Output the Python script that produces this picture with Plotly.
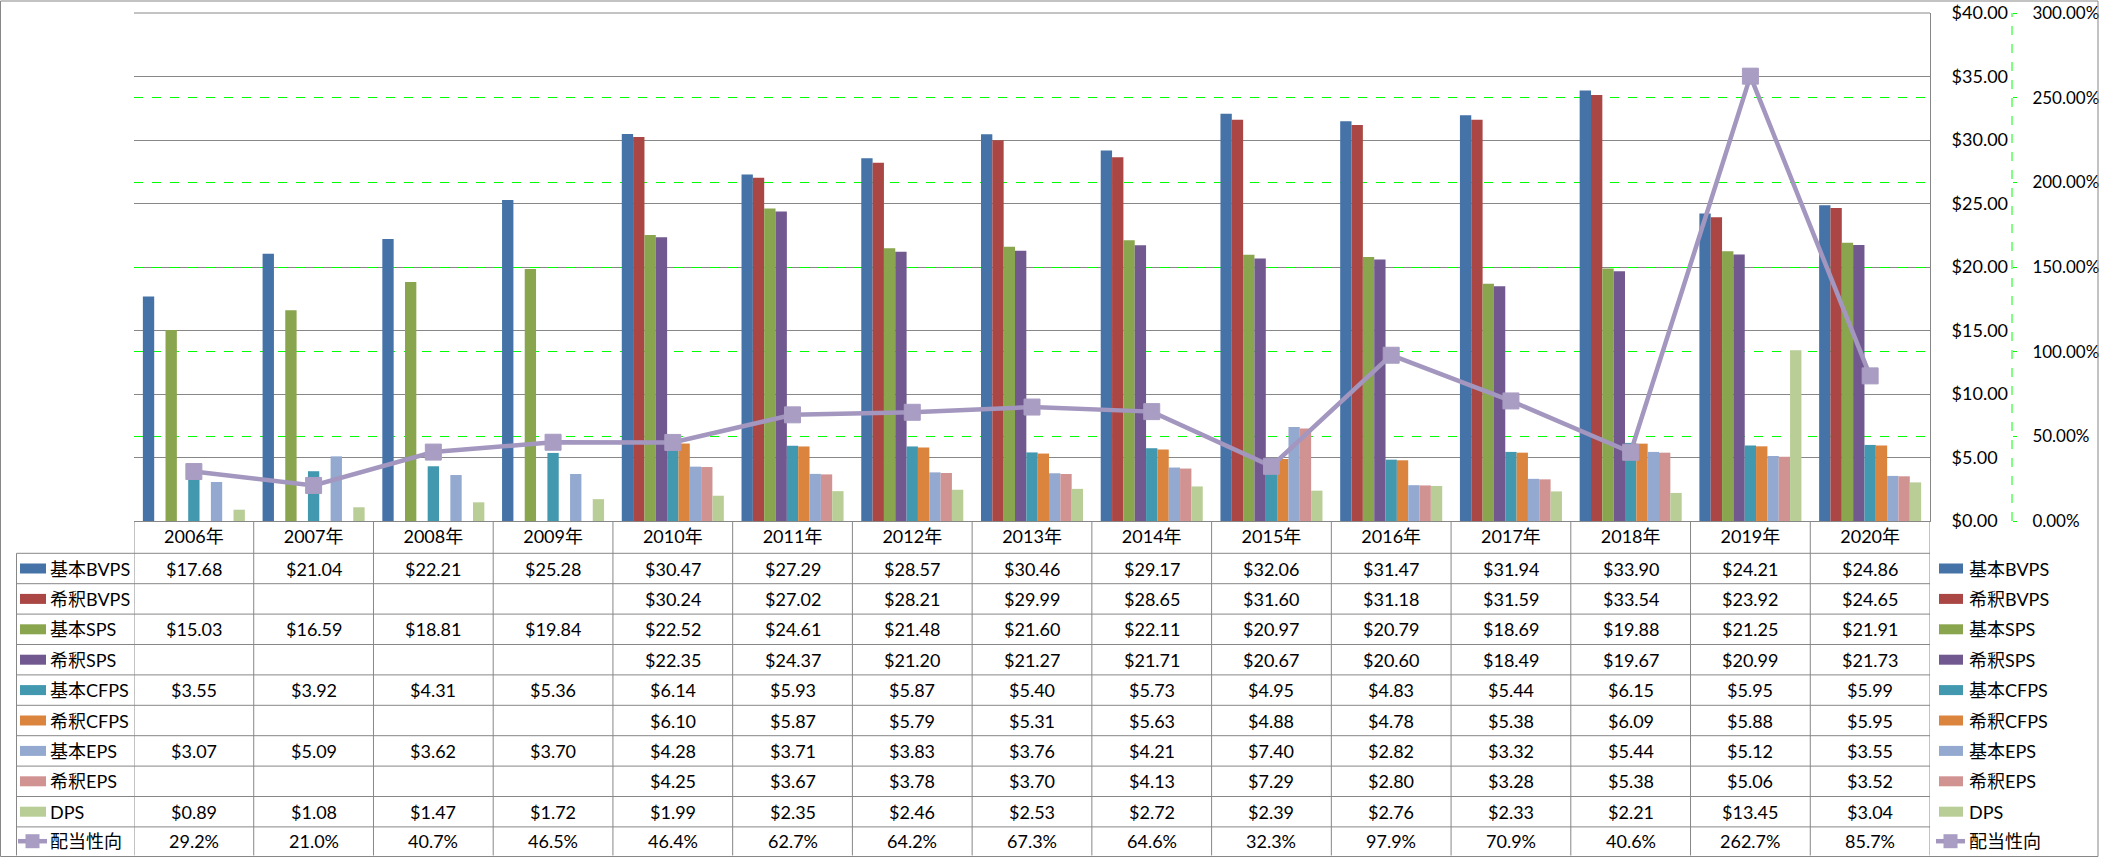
import plotly.graph_objects as go

# ---------------- data ----------------
years = ['2006年', '2007年', '2008年', '2009年', '2010年', '2011年', '2012年', '2013年',
         '2014年', '2015年', '2016年', '2017年', '2018年', '2019年', '2020年']

basic_bvps = [17.68, 21.04, 22.21, 25.28, 30.47, 27.29, 28.57, 30.46, 29.17, 32.06, 31.47, 31.94, 33.90, 24.21, 24.86]
dil_bvps = [None, None, None, None, 30.24, 27.02, 28.21, 29.99, 28.65, 31.60, 31.18, 31.59, 33.54, 23.92, 24.65]
basic_sps = [15.03, 16.59, 18.81, 19.84, 22.52, 24.61, 21.48, 21.60, 22.11, 20.97, 20.79, 18.69, 19.88, 21.25, 21.91]
dil_sps = [None, None, None, None, 22.35, 24.37, 21.20, 21.27, 21.71, 20.67, 20.60, 18.49, 19.67, 20.99, 21.73]
basic_cfps = [3.55, 3.92, 4.31, 5.36, 6.14, 5.93, 5.87, 5.40, 5.73, 4.95, 4.83, 5.44, 6.15, 5.95, 5.99]
dil_cfps = [None, None, None, None, 6.10, 5.87, 5.79, 5.31, 5.63, 4.88, 4.78, 5.38, 6.09, 5.88, 5.95]
basic_eps = [3.07, 5.09, 3.62, 3.70, 4.28, 3.71, 3.83, 3.76, 4.21, 7.40, 2.82, 3.32, 5.44, 5.12, 3.55]
dil_eps = [None, None, None, None, 4.25, 3.67, 3.78, 3.70, 4.13, 7.29, 2.80, 3.28, 5.38, 5.06, 3.52]
dps = [0.89, 1.08, 1.47, 1.72, 1.99, 2.35, 2.46, 2.53, 2.72, 2.39, 2.76, 2.33, 2.21, 13.45, 3.04]
payout_pct = [29.2, 21.0, 40.7, 46.5, 46.4, 62.7, 64.2, 67.3, 64.6, 32.3, 97.9, 70.9, 40.6, 262.7, 85.7]

bar_names = ['基本BVPS', '希釈BVPS', '基本SPS', '希釈SPS', '基本CFPS', '希釈CFPS', '基本EPS', '希釈EPS', 'DPS']
bar_values = [basic_bvps, dil_bvps, basic_sps, dil_sps, basic_cfps, dil_cfps, basic_eps, dil_eps, dps]
line_name = '配当性向'

# ---------------- styles ----------------
bar_colors = ['#4572A7', '#AA4643', '#89A54E', '#71588F', '#4198AF', '#DB843D', '#93A9CF', '#D19392', '#B9CD96']
line_color = '#A396BF'
marker_color = '#A99DC3'
grid_gray = '#878787'
green = '#00FF00'
FONT = "Lato, 'Noto Sans CJK JP', sans-serif"
FS = 18

W, H = 2101, 858
L, R, T, B = 134, 1930, 13, 521   # plot area (pixels)
PR = 2050                          # right edge of paper (pixels)


def px_x(x):
    return (x - L) / (PR - L)


def px_y(y):
    return (B - y) / (B - T)


# table row boundaries (pixels, below the plot area)
ROW_EDGES = [553.3 + 30.4 * k for k in range(10)] + [855.5]
TABLE_LEFT = 16.5
SEC_AXIS_X = 2012

fig = go.Figure()
for name, vals, col in zip(bar_names, bar_values, bar_colors):
    fig.add_trace(go.Bar(x=years, y=vals, name=name, marker=dict(color=col, line=dict(width=0)),
                         yaxis='y'))

fig.add_trace(go.Scatter(x=years, y=[v / 100 for v in payout_pct], name=line_name, yaxis='y2',
                         mode='lines+markers',
                         line=dict(color=line_color, width=4.5),
                         marker=dict(symbol='square', size=16, color=marker_color,
                                     line=dict(color=marker_color, width=1))))

shapes = []
annotations = []

# outer chart border
shapes.append(dict(type='rect', xref='paper', yref='paper', x0=px_x(0.5), x1=px_x(2098),
                   y0=px_y(1), y1=px_y(856.5), line=dict(color=grid_gray, width=1)))

# top border of plot area ($40 gridline)
shapes.append(dict(type='line', xref='paper', yref='paper', x0=0, x1=px_x(R), y0=1, y1=1,
                   line=dict(color=grid_gray, width=1)))

# secondary axis dashed line
shapes.append(dict(type='line', xref='paper', yref='paper', x0=px_x(SEC_AXIS_X), x1=px_x(SEC_AXIS_X),
                   y0=0, y1=1, line=dict(color=green, width=1, dash='dash')))

# table horizontal lines
for y in ROW_EDGES[:-1]:
    shapes.append(dict(type='line', xref='paper', yref='paper', x0=px_x(TABLE_LEFT), x1=px_x(R),
                       y0=px_y(y), y1=px_y(y), line=dict(color=grid_gray, width=1)))
# table vertical lines (category boundaries)
for i in range(len(years) + 1):
    shapes.append(dict(type='line', xref='x', yref='paper', x0=i - 0.5, x1=i - 0.5,
                       y0=0, y1=px_y(ROW_EDGES[-1]), line=dict(color=grid_gray, width=1)))
shapes.append(dict(type='line', xref='paper', yref='paper', x0=px_x(TABLE_LEFT), x1=px_x(TABLE_LEFT),
                   y0=px_y(ROW_EDGES[0]), y1=px_y(ROW_EDGES[-1]), line=dict(color=grid_gray, width=1)))

# table contents + left keys + right legend
row_names = bar_names + [line_name]
for k, name in enumerate(row_names):
    yc = (ROW_EDGES[k] + ROW_EDGES[k + 1]) / 2
    if k < len(bar_names):
        vals = bar_values[k]
        texts = [None if v is None else f'${v:.2f}' for v in vals]
        for sx0, sx1 in ((20, 46), (1939, 1963)):
            shapes.append(dict(type='rect', xref='paper', yref='paper', x0=px_x(sx0), x1=px_x(sx1),
                               y0=px_y(yc - 5), y1=px_y(yc + 5), fillcolor=bar_colors[k],
                               line=dict(width=0)))
    else:
        texts = [f'{v:.1f}%' for v in payout_pct]
        for lx0, lx1 in ((18, 47), (1936, 1965)):
            cx = (lx0 + lx1) / 2
            shapes.append(dict(type='line', xref='paper', yref='paper', x0=px_x(lx0), x1=px_x(lx1),
                               y0=px_y(yc), y1=px_y(yc), line=dict(color=line_color, width=4.5)))
            shapes.append(dict(type='rect', xref='paper', yref='paper', x0=px_x(cx - 7), x1=px_x(cx + 7),
                               y0=px_y(yc - 7), y1=px_y(yc + 7), fillcolor=marker_color,
                               line=dict(width=0)))
    for yr, t in zip(years, texts):
        if t is None:
            continue
        annotations.append(dict(x=yr, xref='x', y=px_y(yc), yref='paper', text=t, showarrow=False,
                                xanchor='center', yanchor='middle', font=dict(size=FS, color='black')))
    for tx in (48, 1967):
        annotations.append(dict(x=px_x(tx), xref='paper', y=px_y(yc), yref='paper', text=name,
                                showarrow=False, xanchor='left', yanchor='middle',
                                font=dict(size=FS, color='black')))

fig.update_layout(
    width=W, height=H,
    margin=dict(l=L, r=W - PR, t=T, b=H - B, pad=0, autoexpand=False),
    paper_bgcolor='white', plot_bgcolor='white',
    font=dict(family=FONT, size=FS, color='black'),
    barmode='group', bargap=0.148, bargroupgap=0,
    showlegend=False,
    xaxis=dict(type='category', range=[-0.5, len(years) - 0.5], domain=[0, px_x(R)],
               showgrid=False, zeroline=False,
               showline=True, linecolor=grid_gray, linewidth=1, ticks='', automargin=False,
               ticklabelstandoff=-1, tickfont=dict(size=FS)),
    yaxis=dict(range=[0, 40], dtick=5, side='right', showgrid=True, gridcolor=grid_gray, gridwidth=1,
               zeroline=False, showline=True, linecolor=grid_gray, linewidth=1, ticks='',
               tickformat='$.2f', automargin=False, ticklabelstandoff=17, tickfont=dict(size=FS)),
    yaxis2=dict(range=[0, 3], dtick=0.5, overlaying='y', side='right', anchor='free',
                position=px_x(SEC_AXIS_X), showgrid=True, gridcolor=green, griddash='dash', gridwidth=1,
                zeroline=False, showline=False, ticks='outside', ticklen=4, tickcolor=green,
                tickformat='.2%', automargin=False, ticklabelstandoff=12, tickfont=dict(size=17)),
    shapes=shapes,
    annotations=annotations,
)

fig.write_html('out.html', config={'displayModeBar': False},
               post_script="document.body.style.margin='0';document.body.style.overflow='hidden';")
